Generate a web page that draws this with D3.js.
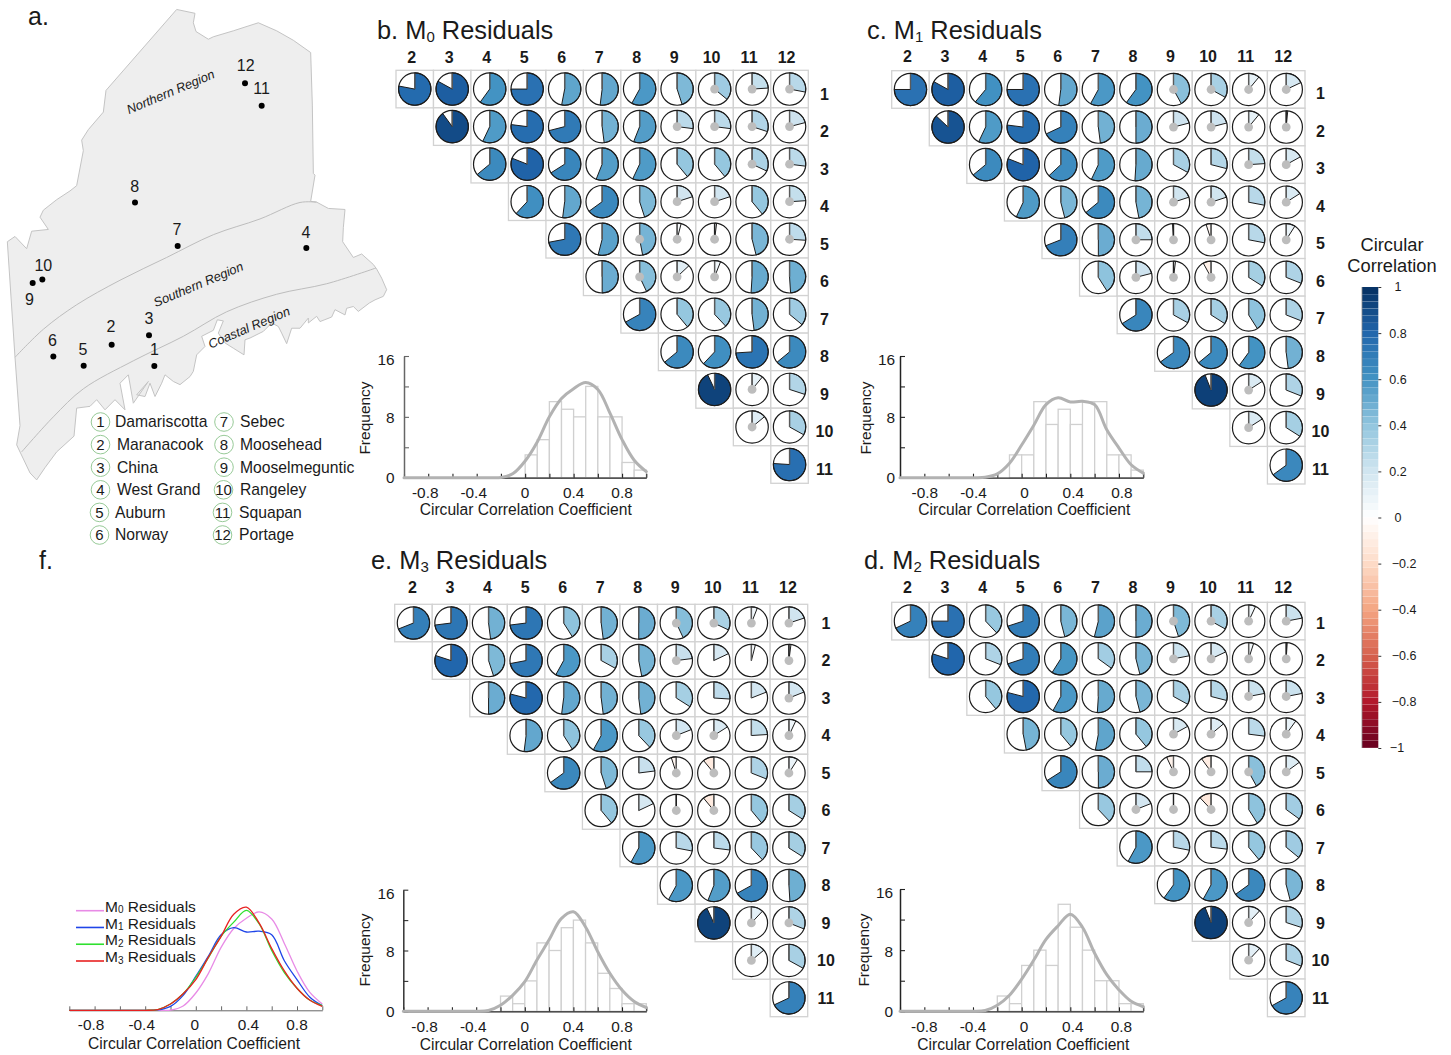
<!DOCTYPE html>
<html><head><meta charset="utf-8">
<script src="https://cdn.jsdelivr.net/npm/d3@7"></script>
<style>
html,body{margin:0;padding:0;background:#fff}
svg{display:block}
text{font-family:"Liberation Sans",Arial,Helvetica,sans-serif;fill:#1a1a1a}
</style></head><body>
<svg id="c" width="1451" height="1055"></svg>
<script>
// ---------- data ----------
const rowIds = [1,2,3,4,5,6,7,8,9,10,11];
const colIds = [2,3,4,5,6,7,8,9,10,11,12];

const m0Corr = [
 [.78,.83,.60,.75,.53,.52,.58,.45,.36,.24,.28],
 [.90,.57,.77,.71,.48,.56,.27,.27,.30,.21],
 [.64,.81,.66,.56,.57,.39,.39,.32,.27],
 [.62,.52,.65,.45,.20,.20,.39,.24],
 [.72,.54,.47,.04,.02,.46,.26],
 [.50,.43,.13,.06,.51,.49],
 [.67,.39,.38,.48,.36],
 [.64,.62,.74,.64],
 [.93,.11,.30],
 [.14,.33],
 [.76]];
const m1Corr = [
 [.75,.83,.61,.75,.52,.58,.60,.42,.33,.11,.18],
 [.87,.57,.77,.68,.48,.50,.21,.21,.11,.015],
 [.64,.81,.63,.57,.51,.33,.29,.24,.17],
 [.57,.46,.64,.47,.20,.20,.28,.16],
 [.69,.50,.25,-.01,-.05,.28,.09],
 [.41,.21,.02,-.08,.34,.31],
 [.66,.33,.34,.41,.31],
 [.65,.64,.60,.48],
 [.94,.16,.31],
 [.16,.34],
 [.65]];
const m2Corr = [
 [.68,.75,.38,.70,.46,.54,.50,.45,.33,.07,.22],
 [.80,.31,.70,.59,.35,.46,.22,.18,.05,.01],
 [.39,.79,.58,.51,.46,.33,.29,.22,.22],
 [.47,.39,.53,.39,.17,.14,.27,.10],
 [.66,.50,.25,-.07,-.10,.42,.15],
 [.38,.19,0,-.12,.41,.35],
 [.58,.28,.27,.39,.36],
 [.60,.58,.65,.46],
 [.94,.12,.30],
 [.12,.31],
 [.67]];
const m3Corr = [
 [.69,.73,.48,.73,.41,.48,.50,.43,.32,.06,.20],
 [.80,.45,.72,.58,.33,.47,.23,.18,.04,.02],
 [.50,.79,.52,.48,.48,.34,.26,.19,.19],
 [.52,.41,.58,.38,.19,.16,.24,.07],
 [.65,.45,.23,-.05,-.11,.31,.09],
 [.39,.18,0,-.11,.39,.34],
 [.58,.28,.27,.38,.34],
 [.58,.56,.67,.49],
 [.93,.12,.31],
 [.14,.33],
 [.68]];

// columns whose correlation carries a grey centre dot, one list per row
const m0Dots = [[10,11,12],[9,10,11,12],[11,12],[9,10,12],[8,9,10,12],[8,9,10],[],[],[11],[11],[]];
const m1Dots = [[9,10,11,12],[9,10,11,12],[11,12],[9,10,12],[8,9,10,12],[8,9,10],[],[],[11],[11],[]];
const m2Dots = [[9,10,11,12],[9,10,11,12],[11,12],[9,10,12],[9,10,11,12],[8,9,10],[],[],[11],[11],[]];
const m3Dots = [[9,10,11,12],[9,12],[12],[9,10,12],[9,10,12],[9,10],[],[],[11,12],[11],[]];

const binStarts = [-.2,-.1,0,.1,.2,.3,.4,.5,.6,.7,.8,.9];
const m0Hist = [0,0,3,5,10,9,8,12,8,8,2,1];
const m1Hist = [0,3,3,10,7,9,7,10,10,3,3,1];
const m2Hist = [2,1,6,8,6,14,11,8,4,4,1,1];
const m3Hist = [2,1,4,9,8,11,12,9,5,3,1,1];

const kdeX  = [-1,-.9,-.8,-.7,-.6,-.5,-.4,-.3,-.2,-.1,0,.1,.2,.3,.4,.5,.6,.7,.8,.9,1];
const m0Kde = [0,0,0,0,0,0,0,0,.02,.55,2.2,4.7,8,10.4,11.7,12.5,11.6,8.5,5,2.3,.8];
const m1Kde = [0,0,0,0,0,0,0,.05,.5,1.9,4.3,6.9,9.6,10.5,9.95,10.05,9.6,6.3,3.9,1.7,.6];
const m2Kde = [0,0,0,0,0,0,0,.1,.8,2.1,4.2,6.7,9.4,11.2,12.7,11,7.6,4.8,2.8,1.3,.6];
const m3Kde = [0,0,0,0,0,0,0,.1,.8,2.1,3.9,6.75,9.4,12.2,13.1,11.1,7.85,5,2.8,1.3,.5];

const histTicksX = [-1,-.8,-.6,-.4,-.2,0,.2,.4,.6,.8,1];
const histLabelsX = [-.8,-.4,0,.4,.8];
const histTicksY = [0,4,8,12,16];
const histLabelsY = [0,8,16];

const colorStops  = [-1,-.8,-.6,-.4,-.2,0,.2,.4,.6,.8,1];
const colorValues = ["#67001f","#b2182b","#d6604d","#f4a582","#fddbc7","#ffffff","#d1e5f0","#92c5de","#4393c3","#2166ac","#053061"];
const colorbarTicks = [1,.8,.6,.4,.2,0,-.2,-.4,-.6,-.8,-1];

const legendNames = ["M0 Residuals","M1 Residuals","M2 Residuals","M3 Residuals"];
const legendSubs  = ["0","1","2","3"];
const legendColors = ["#e88be6","#1f45e8","#2fe02f","#e82020"];

const lakeNames = ["Damariscotta","Maranacook","China","West Grand","Auburn","Norway","Sebec","Moosehead","Mooselmeguntic","Rangeley","Squapan","Portage"];
// map geometry, traced in its own map-unit system
const mapOutline = [[530,27],[585,38],[580,65],[588,90],[625,112],[640,105],[700,88],[775,65],[830,88],[880,115],[932,150],[937,300],[940,495],[945,500],[932,575],[950,577],[985,595],[1035,598],[1030,650],[1028,690],[1060,735],[1085,725],[1120,755],[1130,768],[1145,794],[1160,827],[1150,846],[1125,856],[1108,865],[1075,889],[1060,875],[1040,880],[1035,899],[1005,884],[995,905],[960,918],[950,903],[925,922],[925,908],[900,937],[875,937],[860,981],[845,951],[835,932],[815,922],[790,946],[750,965],[735,970],[732,1013],[700,994],[675,979],[655,951],[670,916],[652,913],[640,943],[605,960],[615,989],[590,1013],[580,1060],[570,1075],[540,1098],[520,1089],[495,1070],[485,1094],[465,1132],[450,1094],[435,1132],[410,1127],[445,1089],[400,1151],[385,1070],[360,1094],[375,1170],[345,1141],[315,1170],[290,1141],[270,1160],[230,1165],[222,1245],[170,1290],[135,1335],[110,1370],[90,1350],[50,1270],[60,1215],[45,1020],[22,690],[45,675],[80,710],[95,660],[145,655],[120,620],[130,600],[170,570],[210,545],[230,530],[250,430],[245,400],[265,370],[310,320],[318,258]];
const regionLine1 = [[45,1020],[130,940],[230,870],[360,800],[500,735],[640,670],[780,625],[900,578],[950,577]];
const regionLine2 = [[65,1290],[160,1190],[250,1110],[400,1030],[550,960],[680,890],[830,840],[980,810],[1128,765]];
const lakeX = [463,335,447,919,251,160,533,405,98,127,785,735];
const lakeY = [1045,984,957,708,1044,1018,702,578,808,798,302,238];
const lakeLabelX = [463,333,447,918,249,157,531,404,88,130,785,737];
const lakeLabelY = [997,932,908,663,996,972,656,532,856,757,252,187];
const regionNames = ["Northern Region","Southern Region","Coastal Region"];
const regionX = [517,600,752];
const regionY = [262,812,935];

// ---------- helpers ----------
const svg = d3.select("#c");
const color = d3.scaleLinear().domain(colorStops).range(colorValues).clamp(true);
function subText(g, x, y, pre, sub, post, size, subSize, anchor){
  const t = g.append("text").attr("x",x).attr("y",y).attr("font-size",size).attr("text-anchor",anchor||"start");
  t.append("tspan").text(pre);
  t.append("tspan").attr("font-size",subSize).attr("dy",size*0.1).text(sub);
  t.append("tspan").attr("dy",-size*0.1).text(post);
  return t;
}
const blank = () => "";

// ---------- correlation panels ----------
const panels = [
 {title:["b. M","0"," Residuals"],tx:377,ty:39,corr:m0Corr,dots:m0Dots,hist:m0Hist,kde:m0Kde,
  gx:[396,808.3],gy:[70.3,483.3],colY:62.5,colDx:-3,rowX:824.5,rowY:[94,469],
  hx:[404,646.3],hy:[477.7,356],tickY:497.5,titleY:515,titleX:525.7,ylabX:394.5,freqX:365,freqY:418,axis:"#666",negDx:-3,posDx:0},
 {title:["c. M","1"," Residuals"],tx:867,ty:39,corr:m1Corr,dots:m1Dots,hist:m1Hist,kde:m1Kde,
  gx:[891.7,1305],gy:[70.7,484],colY:62,colDx:-3,rowX:1320.5,rowY:[93.5,469],
  hx:[900,1143.3],hy:[477.7,356],tickY:497.5,titleY:515,titleX:1024.3,ylabX:895,freqX:866,freqY:418,axis:"#222",negDx:.5,posDx:3},
 {title:["e. M","3"," Residuals"],tx:371,ty:569,corr:m3Corr,dots:m3Dots,hist:m3Hist,kde:m3Kde,
  gx:[394.7,807.7],gy:[604.3,1016.7],colY:593,colDx:-1,rowX:826,rowY:[623.3,998.3],
  hx:[403.3,646.3],hy:[1011.3,889.7],tickY:1032,titleY:1050,titleX:525.7,ylabX:394.5,freqX:365,freqY:950,axis:"#333",negDx:-3,posDx:0},
 {title:["d. M","2"," Residuals"],tx:864,ty:569,corr:m2Corr,dots:m2Dots,hist:m2Hist,kde:m2Kde,
  gx:[891.7,1305],gy:[602.3,1016.7],colY:593,colDx:-3,rowX:1320.5,rowY:[623.3,998.3],
  hx:[900,1143.3],hy:[1011.3,889],tickY:1032,titleY:1050,titleX:1023.3,ylabX:893,freqX:864,freqY:950,axis:"#222",negDx:0,posDx:2.5}
];

panels.forEach(p=>{
  const g = svg.append("g");
  subText(g,p.tx,p.ty,p.title[0],p.title[1],p.title[2],25.4,15);

  const x = d3.scaleBand().domain(colIds).range(p.gx);
  const y = d3.scaleBand().domain(rowIds).range(p.gy);
  const rowLab = d3.scalePoint().domain(rowIds).range(p.rowY);
  const R = 16.2;

  const cells = [];
  p.corr.forEach((vals,ri)=>vals.forEach((v,ci)=>{
    const row = rowIds[ri], col = colIds[ri+ci];
    cells.push({row,col,v,dot:p.dots[ri].includes(col)});
  }));

  g.selectAll("rect.cell").data(cells).join("rect").attr("class","cell")
    .attr("x",d=>x(d.col)).attr("y",d=>y(d.row))
    .attr("width",x.bandwidth()).attr("height",y.bandwidth())
    .attr("fill","#fff").attr("stroke","#d2d2d2").attr("stroke-width",1.3);

  const arc = d3.arc().innerRadius(0).outerRadius(R).startAngle(0);
  const pies = g.selectAll("g.pie").data(cells).join("g").attr("class","pie")
    .attr("transform",d=>`translate(${x(d.col)+x.bandwidth()/2},${y(d.row)+y.bandwidth()/2})`);
  pies.append("circle").attr("r",R).attr("fill","#fff");
  pies.append("path").attr("d",d=>arc({endAngle:d.v*2*Math.PI}))
    .attr("fill",d=>color(d.v)).attr("stroke","#1c1c1c").attr("stroke-width",1).attr("stroke-linejoin","round");
  pies.append("line").attr("x1",0).attr("x2",0).attr("y1",0).attr("y2",-R)
    .attr("stroke",d=>Math.abs(d.v)<.03?"#222":"#5a5a5a").attr("stroke-width",1.4);
  pies.filter(d=>d.dot).append("circle").attr("r",4.4).attr("fill","#bdbdbd");
  pies.append("circle").attr("r",R).attr("fill","none").attr("stroke","#1c1c1c").attr("stroke-width",1.2);

  g.selectAll("text.col").data(colIds).join("text").attr("class","col")
    .attr("x",d=>x(d)+x.bandwidth()/2+p.colDx).attr("y",p.colY)
    .attr("text-anchor","middle").attr("font-weight","bold").attr("font-size",16).text(d=>d);
  g.selectAll("text.row").data(rowIds).join("text").attr("class","row")
    .attr("x",p.rowX).attr("y",d=>rowLab(d)+5.6)
    .attr("text-anchor","middle").attr("font-weight","bold").attr("font-size",16).text(d=>d);

  // histogram
  const hx = d3.scaleLinear().domain([-1,1]).range(p.hx);
  const hy = d3.scaleLinear().domain([0,16]).range(p.hy);
  const bins = binStarts.map((b,i)=>({b,n:p.hist[i]})).filter(d=>d.n>0);
  g.selectAll("rect.bar").data(bins).join("rect").attr("class","bar")
    .attr("x",d=>hx(d.b)).attr("width",d=>hx(d.b+.1)-hx(d.b))
    .attr("y",d=>hy(d.n)).attr("height",d=>hy(0)-hy(d.n))
    .attr("fill","#fff").attr("stroke","#d0d0d0").attr("stroke-width",1.3);

  const ax = d3.axisBottom(hx).tickValues(histTicksX).tickSize(-4).tickSizeOuter(0).tickFormat(blank);
  const axg = g.append("g").attr("transform",`translate(0,${hy(0)})`).call(ax);
  axg.select(".domain").attr("stroke","#222").attr("stroke-width",1.3);
  axg.selectAll(".tick line").attr("stroke","#222").attr("stroke-width",1.1);
  const ay = d3.axisLeft(hy).tickValues(histTicksY).tickSize(-5).tickSizeOuter(0).tickFormat(blank);
  const ayg = g.append("g").attr("transform",`translate(${hx(-1)},0)`).call(ay);
  ayg.select(".domain").attr("stroke",p.axis).attr("stroke-width",1.5);
  ayg.selectAll(".tick line").attr("stroke",p.axis).attr("stroke-width",1.1);

  const line = d3.line().x((d,i)=>hx(kdeX[i])).y(d=>Math.min(hy(d),hy(0))).curve(d3.curveCatmullRom);
  g.append("path").attr("d",line(p.kde)).attr("fill","none").attr("stroke","#b2b2b2")
    .attr("stroke-width",3).attr("stroke-linecap","round");

  g.selectAll("text.xl").data(histLabelsX).join("text").attr("class","xl")
    .attr("x",d=>hx(d)+(d<0?p.negDx:p.posDx)).attr("y",p.tickY).attr("text-anchor","middle").attr("font-size",15.4)
    .text(d=>d);
  g.selectAll("text.yl").data(histLabelsY).join("text").attr("class","yl")
    .attr("x",p.ylabX).attr("y",d=>hy(d)+5.4+(d==16?3.5:d==8?1:0)).attr("text-anchor","end").attr("font-size",15.4)
    .text(d=>d);
  g.append("text").attr("x",p.titleX).attr("y",p.titleY).attr("text-anchor","middle")
    .attr("font-size",15.6).text("Circular Correlation Coefficient");
  g.append("text").attr("transform",`translate(${p.freqX+5},${p.freqY}) rotate(-90)`)
    .attr("text-anchor","middle").attr("font-size",15.5).text("Frequency");
});

// ---------- panel f ----------
{
  const g = svg.append("g");
  g.append("text").attr("x",39).attr("y",569).attr("font-size",25).text("f.");
  const fx = d3.scaleLinear().domain([-1,1]).range([69.3,322.3]);
  const fy = d3.scaleLinear().domain([0,16]).range([1010.3,884.4]);
  const ax = d3.axisBottom(fx).tickValues(histTicksX).tickSize(-4).tickSizeOuter(0).tickFormat(blank);
  const axg = g.append("g").attr("transform",`translate(0,${fy(0)})`).call(ax);
  axg.select(".domain").attr("stroke","#666").attr("stroke-width",1);
  axg.selectAll(".tick line").attr("stroke","#666");
  const line = d3.line().x((d,i)=>fx(kdeX[i])).y(d=>Math.min(fy(d),fy(0))).curve(d3.curveCatmullRom);
  [m0Kde,m1Kde,m2Kde,m3Kde].forEach((k,i)=>{
    g.append("path").attr("d",line(k)).attr("fill","none").attr("stroke",legendColors[i]).attr("stroke-width",1.3);
  });
  g.selectAll("text.xl").data(histLabelsX).join("text").attr("class","xl")
    .attr("x",d=>fx(d)+(d<0?-3.5:d==0?-1:d==.4?2:0)).attr("y",1030).attr("text-anchor","middle").attr("font-size",15.4).text(d=>d);
  g.append("text").attr("x",194).attr("y",1049).attr("text-anchor","middle").attr("font-size",15.6)
    .text("Circular Correlation Coefficient");
  const ly = d3.scalePoint().domain(legendNames).range([910.7,961]);
  legendNames.forEach((n,i)=>{
    g.append("line").attr("x1",76).attr("x2",104).attr("y1",ly(n)).attr("y2",ly(n))
      .attr("stroke",legendColors[i]).attr("stroke-width",1.6);
    subText(g,105,ly(n)+1.2,"M",legendSubs[i]," Residuals",15.5,10);
  });
}

// ---------- panel a: map ----------
{
  const g = svg.append("g");
  g.append("text").attr("x",28).attr("y",25).attr("font-size",25).text("a.");
  const mx = d3.scaleLinear().domain([0,1200]).range([0,400]);
  const my = d3.scaleLinear().domain([0,1650]).range([0,578]);
  const line = d3.line().x(d=>mx(d[0])).y(d=>my(d[1]));
  g.append("path").attr("d",line(mapOutline)+"Z").attr("fill","#eeeeee").attr("stroke","#c4c4c4")
    .attr("stroke-width",1).attr("stroke-linejoin","round");
  [regionLine1,regionLine2].forEach(l=>{
    g.append("path").attr("d",d3.line().x(d=>mx(d[0])).y(d=>my(d[1])).curve(d3.curveCatmullRom)(l))
      .attr("fill","none").attr("stroke","#bdbdbd").attr("stroke-width",1);
  });
  lakeX.forEach((lx,i)=>{
    g.append("circle").attr("cx",mx(lx)).attr("cy",my(lakeY[i])).attr("r",3).attr("fill","#000");
    g.append("text").attr("x",mx(lakeLabelX[i])).attr("y",my(lakeLabelY[i])+5.6)
      .attr("text-anchor","middle").attr("font-size",16).text(i+1);
  });
  regionNames.forEach((n,i)=>{
    g.append("text").attr("transform",`translate(${mx(regionX[i])},${my(regionY[i])+4}) rotate(-23)`)
      .attr("text-anchor","middle").attr("font-size",12.8).attr("font-style","italic").text(n);
  });
  // legend of lakes
  const legRows = d3.scalePoint().domain([0,1,2,3,4,5]).range([422,535]);
  const legCircleX = [100.5,100.5,100.5,100.5,99.5,99.5,224,224,224,223.5,222.5,222.5];
  const legTextX = [115,117,117,117,115,115,240,240,240,240,239,239];
  lakeNames.forEach((n,i)=>{
    const cy = legRows(i%6);
    g.append("circle").attr("cx",legCircleX[i]).attr("cy",cy).attr("r",9.3)
      .attr("fill","#fff").attr("stroke","#8cc48c").attr("stroke-width",.9);
    g.append("text").attr("x",legCircleX[i]).attr("y",cy+5.3).attr("text-anchor","middle").attr("font-size",15).text(i+1);
    g.append("text").attr("x",legTextX[i]).attr("y",cy+5.3).attr("font-size",15.7).text(n);
  });
}

// ---------- colour bar ----------
{
  const g = svg.append("g");
  const cy = d3.scaleLinear().domain([1,-1]).range([287,748]);
  const steps = d3.range(1,-1,-2/64);
  g.selectAll("rect.s").data(steps).join("rect").attr("class","s")
    .attr("x",1362).attr("width",16.3)
    .attr("y",d=>cy(d)).attr("height",d=>cy(d-2/64)-cy(d)-.15)
    .attr("fill",d=>color(d-1/64));
  g.append("line").attr("x1",1362).attr("x2",1362).attr("y1",287).attr("y2",748).attr("stroke","#888").attr("stroke-width",.8);
  const ax = d3.axisRight(cy).tickValues(colorbarTicks).tickSize(3).tickSizeOuter(0).tickFormat(blank);
  const ag = g.append("g").attr("transform","translate(1378.3,0)").call(ax);
  ag.select(".domain").attr("stroke","none");
  ag.selectAll(".tick line").attr("stroke","#333");
  g.selectAll("text.t").data(colorbarTicks).join("text").attr("class","t")
    .attr("x",d=>d<0&&d>-1?1404:d==-1?1397:1398).attr("y",d=>cy(d)+4.4).attr("text-anchor","middle").attr("font-size",12.5)
    .text(d=>String(d).replace("-","\u2212"));
  g.append("text").attr("x",1392).attr("y",251).attr("text-anchor","middle").attr("font-size",18.3).text("Circular");
  g.append("text").attr("x",1392).attr("y",272).attr("text-anchor","middle").attr("font-size",18.3).text("Correlation");
}
</script>
</body></html>
